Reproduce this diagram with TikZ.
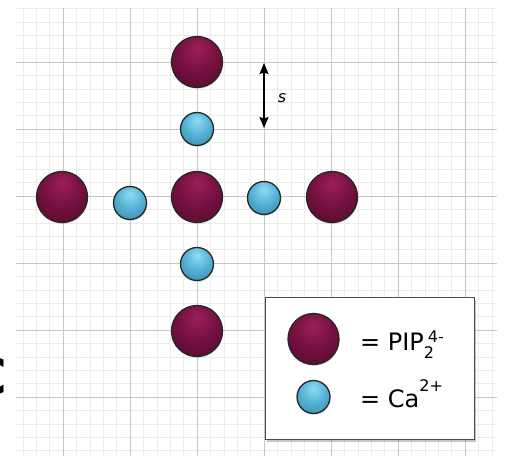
\documentclass[tikz,border=0pt]{standalone}
\usepackage{fontspec}
\setmainfont{DejaVu Sans}
\usetikzlibrary{shadows,arrows.meta}
\definecolor{piphi}{HTML}{9C1F58}
\definecolor{pipmid}{HTML}{741040}
\definecolor{piplo}{HTML}{3A0520}
\definecolor{cahi}{HTML}{8EDCF5}
\definecolor{camid}{HTML}{52B0D4}
\definecolor{calo}{HTML}{2A6F8E}
\pgfdeclareradialshading{pipshade}{\pgfpoint{0bp}{14bp}}{color(0bp)=(piphi); color(20bp)=(pipmid); color(50bp)=(piplo); color(66bp)=(piplo)}
\pgfdeclareradialshading{cashade}{\pgfpoint{0bp}{14bp}}{color(0bp)=(cahi); color(20bp)=(camid); color(50bp)=(calo); color(66bp)=(calo)}
\tikzset{
  minorgrid/.style={draw=black!8, line width=0.5bp},
  majorgrid/.style={draw=black!22, line width=0.8bp},
  ballshadow/.style={drop shadow={opacity=0.2, shadow xshift=0.5bp, shadow yshift=-1.5bp}},
  pip/.style={circle, inner sep=0pt, minimum size=51bp, shading=pipshade, draw=black!85, line width=1.3bp, ballshadow},
  ca/.style={circle, inner sep=0pt, minimum size=33bp, shading=cashade, draw=black!85, line width=1.3bp, ballshadow},
  legendbox/.style={rectangle, draw=black!70, line width=0.8bp, fill=white, inner sep=0pt,
    minimum width=209bp, minimum height=142bp,
    drop shadow={opacity=0.45, shadow xshift=1.5bp, shadow yshift=-2.5bp}},
  legtext/.style={inner sep=0pt, anchor=base west, font=\fontsize{24bp}{28bp}\selectfont},
  sarrow/.style={{Stealth[length=11bp,width=9bp,inset=1.5bp]}-{Stealth[length=11bp,width=9bp,inset=1.5bp]}, line width=1.3bp, draw=black},
}
\newcommand{\supsmall}[1]{{\fontsize{16bp}{18bp}\selectfont #1}}
\begin{document}
\begin{tikzpicture}[x=1bp,y=-1bp]
\useasboundingbox (0,0) rectangle (505,456);
\fill[white] (0,0) rectangle (505,456);
% grid
\begin{scope}
  \clip (16,8) rectangle (497,456);
  \foreach \k in {0,...,35} { \draw[minorgrid] ({22.8+\k*13.4},8) -- ({22.8+\k*13.4},456); }
  \foreach \k in {0,...,33} { \draw[minorgrid] (16,{8.4+\k*13.4}) -- (497,{8.4+\k*13.4}); }
  \foreach \k in {0,...,6} { \draw[majorgrid] ({63+\k*67},8) -- ({63+\k*67},456); }
  \foreach \k in {0,...,5} { \draw[majorgrid] (16,{62+\k*67}) -- (497,{62+\k*67}); }
\end{scope}
% partial letter at left edge
\node[inner sep=0pt, anchor=east, font=\fontsize{50bp}{50bp}\selectfont\bfseries] (cletter) at (7,376) {C};
% spheres
\node[pip] (p1) at (197,62) {};
\node[pip] (p2) at (62,197) {};
\node[pip] (p3) at (197,197) {};
\node[pip] (p4) at (332,197) {};
\node[pip] (p5) at (197,331) {};
\node[ca] (c1) at (197,129) {};
\node[ca] (c2) at (130,203) {};
\node[ca] (c3) at (264,198) {};
\node[ca] (c4) at (197,264) {};
% spacing arrow
\coordinate (stop) at (264,63);
\coordinate (sbot) at (264,128);
\draw[sarrow] (stop) -- (sbot);
\node[inner sep=0pt, font=\fontsize{16bp}{18bp}\selectfont\itshape] (slabel) at (282,98) {s};
% legend
\node[legendbox] (legend) at (369.5,368.5) {};
\node[pip] (lp) at (313.5,339) {};
\node[ca] (lc) at (313.5,397) {};
\node[legtext] (lt1) at (360,350) {= PIP\rlap{\raisebox{-8bp}{\supsmall{2}}}\hspace{4bp}\raisebox{8bp}{\supsmall{4-}}};
\node[legtext] (lt2) at (360,407) {= Ca\raisebox{16bp}{\supsmall{2+}}};
\end{tikzpicture}
\end{document}
